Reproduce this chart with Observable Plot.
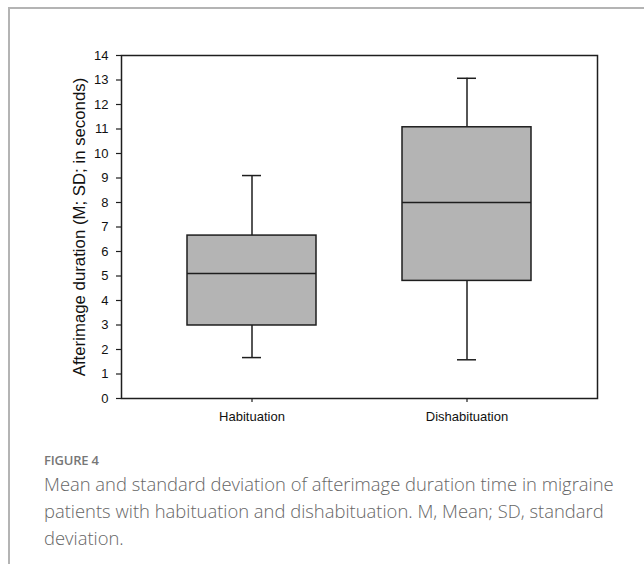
<!DOCTYPE html>
<html>
<head>
<meta charset="utf-8">
<script src="https://cdn.jsdelivr.net/npm/d3@7"></script>
<script src="https://cdn.jsdelivr.net/npm/@observablehq/plot@0.6"></script>
<style>
  html, body { margin: 0; padding: 0; background: #fff; }
  body { width: 644px; height: 564px; position: relative; overflow: hidden; }
  #card { position: absolute; left: 8px; top: 7px; width: 640px; height: 600px;
          border-left: 2px solid #b4b4b4; border-top: 2px solid #b4b4b4; }
  #chart { position: absolute; left: 0; top: 0; }
  #caption { position: absolute; left: 44px; top: 451px; width: 600px; font-family: "Open Sans", sans-serif; color: #666; }
  #fig { font-size: 13px; font-weight: 600; color: #777; line-height: 18px; letter-spacing: -0.2px; }
  #text { font-size: 18.4px; font-weight: 300; line-height: 27px; margin-top: 1px; white-space: nowrap; }
</style>
</head>
<body>
<div id="card"></div>
<div id="chart"></div>
<div id="caption">
  <div id="fig">FIGURE 4</div>
  <div id="text">Mean and standard deviation of afterimage duration time in migraine<br>patients with habituation and dishabituation. M, Mean; SD, standard<br>deviation.</div>
</div>
<script>
const groups = ["Habituation", "Dishabituation"];
const whiskerLow = [1.67, 1.58];
const boxLow = [2.98, 4.8];
const median = [5.1, 8.0];
const boxHigh = [6.65, 11.07];
const whiskerHigh = [9.1, 13.07];
const yTicks = [0, 1, 2, 3, 4, 5, 6, 7, 8, 9, 10, 11, 12, 13, 14];
const yLabel = "Afterimage duration (M; SD; in seconds)";

const data = groups.map((g, i) => ({
  group: g,
  wl: whiskerLow[i], bl: boxLow[i], med: median[i], bh: boxHigh[i], wh: whiskerHigh[i]
}));

const ink = "#1e1e1e";
const chart = Plot.plot({
  width: 644,
  height: 430,
  marginLeft: 121,
  marginRight: 47,
  marginTop: 55,
  marginBottom: 32,
  style: { fontFamily: "'Liberation Sans', Arial, sans-serif", fontSize: "13px", color: "#111", background: "transparent" },
  x: { domain: groups, type: "band", paddingInner: 0.398, paddingOuter: 0.305 },
  y: { domain: [0, 14] },
  marks: [
    Plot.ruleX(data, { x: "group", y1: "bh", y2: "wh", stroke: ink, strokeWidth: 1.5 }),
    Plot.ruleX(data, { x: "group", y1: "wl", y2: "bl", stroke: ink, strokeWidth: 1.5 }),
    Plot.tickY(data, { x: "group", y: "wh", stroke: ink, strokeWidth: 1.5, insetLeft: 55, insetRight: 55 }),
    Plot.tickY(data, { x: "group", y: "wl", stroke: ink, strokeWidth: 1.5, insetLeft: 55, insetRight: 55 }),
    Plot.barY(data, { x: "group", y1: "bl", y2: "bh", fill: "#b4b4b4", stroke: ink, strokeWidth: 1.5 }),
    Plot.tickY(data, { x: "group", y: "med", stroke: ink, strokeWidth: 1.5 }),
    Plot.frame({ stroke: ink, strokeWidth: 1.5 }),
    Plot.axisY({ ticks: yTicks, tickSize: 5, tickPadding: 8, label: null, stroke: ink, strokeWidth: 1.2 }),
    Plot.axisX({ tickSize: 4, tickPadding: 9, label: null, stroke: ink, strokeWidth: 1.2 }),
    Plot.text([yLabel], { text: d => d, frameAnchor: "left", textAnchor: "middle", rotate: -90, dx: -42, fontSize: 16.8, fill: "#111" })
  ]
});
document.getElementById("chart").appendChild(chart);
</script>
</body>
</html>
